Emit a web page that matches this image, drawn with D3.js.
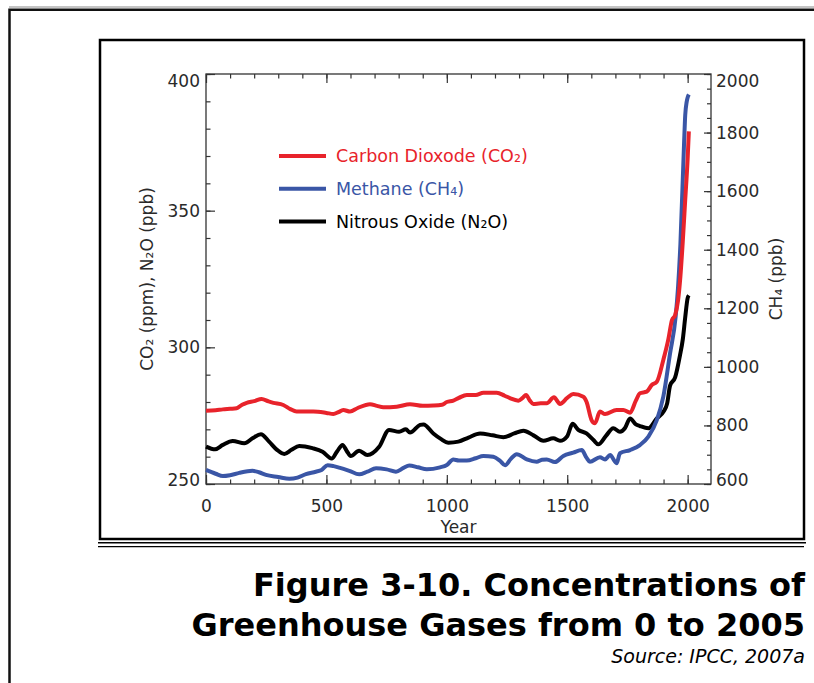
<!DOCTYPE html>
<html>
<head>
<meta charset="utf-8">
<script src="https://cdn.jsdelivr.net/npm/d3@7"></script>
<style>
body { margin: 0; background: #fff; }
svg text { font-family: "DejaVu Sans", Verdana, sans-serif; }
</style>
</head>
<body>
<div id="chart"></div>
<script>
// values (CO2 & N2O left axis, CH4 right axis)
let co2_years = [0, 40, 70, 100, 127, 150, 169, 200, 231, 260, 280, 321, 350, 376, 446, 500, 529, 550, 570, 598, 630, 681, 710, 736, 792, 847, 900, 944, 980, 1000, 1027, 1050, 1083, 1120, 1152, 1207, 1240, 1262, 1297, 1315, 1329, 1345, 1359, 1390, 1415, 1445, 1470, 1500, 1525, 1567, 1580, 1601, 1615, 1636, 1657, 1705, 1733, 1761, 1785, 1802, 1830, 1851, 1872, 1899, 1920, 1935, 1948, 1960, 1970, 1980, 1990, 2000, 2005];
let co2_values = [276.8, 277.0, 277.3, 277.5, 277.7, 279.0, 279.7, 280.3, 281.1, 280.2, 279.7, 278.9, 277.4, 276.5, 276.5, 276.0, 275.6, 276.3, 277.1, 276.5, 277.8, 279.2, 278.6, 278.1, 278.3, 279.2, 278.6, 278.7, 279.0, 280.0, 280.5, 281.5, 282.6, 282.6, 283.4, 283.4, 282.3, 281.4, 280.5, 281.5, 282.6, 280.5, 279.3, 279.5, 279.5, 281.7, 279.3, 281.5, 282.9, 281.9, 280.1, 273.4, 272.2, 276.5, 275.6, 277.1, 277.1, 276.1, 280.5, 283.2, 283.8, 286.2, 287.4, 295.4, 303, 310, 311.8, 317, 326, 339, 354, 369, 379];

let ch4_years = [0, 40, 70, 100, 138, 193, 220, 249, 300, 346, 380, 415, 456, 480, 505, 530, 553, 595, 636, 670, 706, 750, 789, 820, 844, 880, 917, 972, 1000, 1027, 1050, 1083, 1120, 1152, 1193, 1220, 1242, 1265, 1290, 1332, 1373, 1395, 1415, 1449, 1484, 1525, 1560, 1580, 1594, 1636, 1657, 1678, 1705, 1719, 1761, 1802, 1837, 1872, 1899, 1927, 1950, 1960, 1970, 1985, 1990, 1996, 2000, 2005];
let ch4_values = [648, 635, 627, 630, 638, 645, 640, 631, 624, 618, 622, 634, 642, 648, 664, 661, 656, 645, 633, 642, 654, 650, 642, 655, 663, 657, 650, 657, 665, 684, 680, 680, 688, 696, 693, 680, 664, 685, 702, 684, 676, 683, 684, 675, 696, 707, 716, 690, 676, 691, 684, 699, 671, 705, 716, 733, 762, 818, 898, 1046, 1170, 1270, 1420, 1760, 1860, 1905, 1920, 1930];

let n2o_years = [0, 38, 70, 111, 159, 193, 228, 262, 295, 325, 355, 387, 442, 484, 522, 545, 567, 585, 601, 636, 670, 719, 760, 802, 830, 847, 889, 903, 944, 975, 1007, 1048, 1090, 1138, 1190, 1235, 1280, 1318, 1360, 1401, 1442, 1470, 1500, 1522, 1546, 1580, 1610, 1629, 1660, 1691, 1719, 1740, 1761, 1785, 1802, 1837, 1872, 1900, 1915, 1927, 1948, 1968, 1980, 1990, 2000, 2005];
let n2o_values = [263.7, 262.7, 264.3, 265.7, 264.9, 266.7, 268.2, 265.5, 262.5, 261.0, 262.5, 263.9, 263.1, 261.8, 259.3, 262.0, 264.3, 262.0, 260.2, 262.2, 260.6, 263.6, 269.8, 269.1, 270.0, 268.8, 271.6, 271.8, 268.5, 266.5, 265.1, 265.5, 267.0, 268.5, 267.8, 267.1, 268.5, 269.5, 267.8, 265.8, 266.7, 265.8, 267.5, 272.0, 269.8, 268.5, 266.0, 264.5, 267.5, 270.4, 269.1, 270.5, 274.0, 271.8, 271.2, 270.4, 274.0, 276.5, 279.5, 286, 289, 297, 303, 311, 318, 319];

let x_ticks = [0, 500, 1000, 1500, 2000];
let left_ticks = [250, 300, 350, 400];
let right_ticks = [600, 800, 1000, 1200, 1400, 1600, 1800, 2000];

let settings = {
    width: 814,
    height: 683,
    left: 206,
    right: 711,
    top: 74,
    bottom: 484,
    line_width: 4,
};

let colors = {
    co2: "#e8232b",
    ch4: "#3a56a6",
    n2o: "#000000",
    axis: "#333333",
};

function zip(xs, ys) {
    return xs.map((d, i) => ({ year: d, value: ys[i] }));
}

let svg = d3.select("#chart").append("svg")
    .attr("width", settings.width)
    .attr("height", settings.height);

// page frame
svg.append("line").attr("x1", 9).attr("x2", 814).attr("y1", 7).attr("y2", 7)
    .attr("stroke", "#b0b0b0").attr("stroke-width", 1.5);
svg.append("path").attr("d", "M9.5,683 V9.8 H814")
    .attr("fill", "none").attr("stroke", "#111").attr("stroke-width", 2.5);
svg.append("rect").attr("x", 100).attr("y", 40).attr("width", 704).attr("height", 499)
    .attr("fill", "none").attr("stroke", "#000").attr("stroke-width", 2.5);
svg.append("line").attr("x1", 98).attr("x2", 806).attr("y1", 542.8).attr("y2", 542.8)
    .attr("stroke", "#000").attr("stroke-width", 1.6);
svg.append("line").attr("x1", 98).attr("x2", 804).attr("y1", 546.6).attr("y2", 546.6)
    .attr("stroke", "#000").attr("stroke-width", 1.4);

let x = d3.scaleLinear().domain([0, 2097]).range([settings.left, settings.right]);
let y_left = d3.scaleLinear().domain([250, 400]).range([settings.bottom, settings.top]);
let y_right = d3.scaleLinear().domain([600, 2000]).range([settings.bottom, settings.top]);

function style_axis(g) {
    g.select(".domain").remove();
    g.selectAll(".tick line").attr("stroke", colors.axis).attr("stroke-width", 1.2);
    g.selectAll(".tick text").attr("fill", "#2a2a2a").style("font-size", "17px");
}

// minor ticks
let minor_years = d3.range(0, 2001, 100);
svg.append("g").attr("transform", "translate(0," + settings.bottom + ")")
    .call(d3.axisBottom(x).tickValues(minor_years).tickSize(-4.5).tickFormat(""))
    .call(style_axis);
svg.append("g").attr("transform", "translate(0," + settings.top + ")")
    .call(d3.axisTop(x).tickValues(minor_years).tickSize(-4.5).tickFormat(""))
    .call(style_axis);
svg.append("g").attr("transform", "translate(" + settings.left + ",0)")
    .call(d3.axisLeft(y_left).tickValues(d3.range(250, 401, 10)).tickSize(-4.5).tickFormat(""))
    .call(style_axis);
svg.append("g").attr("transform", "translate(" + settings.right + ",0)")
    .call(d3.axisRight(y_right).tickValues(d3.range(600, 2001, 50)).tickSize(-4).tickFormat(""))
    .call(style_axis);

// major ticks + labels
svg.append("g").attr("transform", "translate(0," + settings.bottom + ")")
    .call(d3.axisBottom(x).tickValues(x_ticks).tickSize(-9).tickPadding(16).tickFormat(d3.format("d")))
    .call(style_axis);
svg.append("g").attr("transform", "translate(0," + settings.top + ")")
    .call(d3.axisTop(x).tickValues(x_ticks).tickSize(-9).tickFormat(""))
    .call(style_axis);

let left_axis = svg.append("g").attr("transform", "translate(" + settings.left + ",0)")
    .call(d3.axisLeft(y_left).tickValues(left_ticks).tickSize(-9).tickPadding(6).tickFormat(d3.format("d")))
    .call(style_axis);
left_axis.selectAll(".tick text").filter(d => d === 400).attr("dy", "0.72em");
left_axis.selectAll(".tick text").filter(d => d === 250).attr("dy", "0.1em");

let right_axis = svg.append("g").attr("transform", "translate(" + settings.right + ",0)")
    .call(d3.axisRight(y_right).tickValues(right_ticks).tickSize(-7).tickPadding(5).tickFormat(d3.format("d")))
    .call(style_axis);
right_axis.selectAll(".tick text").filter(d => d === 2000).attr("dy", "0.72em");
right_axis.selectAll(".tick text").filter(d => d === 600).attr("dy", "0.1em");

// plot box
svg.append("rect")
    .attr("x", settings.left).attr("y", settings.top)
    .attr("width", settings.right - settings.left)
    .attr("height", settings.bottom - settings.top)
    .attr("fill", "none").attr("stroke", colors.axis).attr("stroke-width", 1.3);

// axis titles
svg.append("text")
    .attr("x", (settings.left + settings.right) / 2).attr("y", 533)
    .attr("text-anchor", "middle").attr("fill", "#2a2a2a").style("font-size", "17px")
    .text("Year");
svg.append("text")
    .attr("transform", "translate(153," + (settings.top + settings.bottom) / 2 + ") rotate(-90)")
    .attr("text-anchor", "middle").attr("fill", "#2a2a2a").style("font-size", "17px")
    .text("CO₂ (ppm), N₂O (ppb)");
svg.append("text")
    .attr("transform", "translate(782," + (settings.top + settings.bottom) / 2 + ") rotate(-90)")
    .attr("text-anchor", "middle").attr("fill", "#2a2a2a").style("font-size", "17px")
    .text("CH₄ (ppb)");

// series
let series = [
    { key: "co2", data: zip(co2_years, co2_values), y: y_left },
    { key: "n2o", data: zip(n2o_years, n2o_values), y: y_left },
    { key: "ch4", data: zip(ch4_years, ch4_values), y: y_right },
];

let plot = svg.append("g");
for (let s of [series[1], series[2], series[0]]) {
    let line = d3.line()
        .x(d => x(d.year))
        .y(d => s.y(d.value))
        .curve(d3.curveMonotoneX);
    plot.append("path")
        .datum(s.data)
        .attr("fill", "none")
        .attr("stroke", colors[s.key])
        .attr("stroke-width", settings.line_width)
        .attr("stroke-linejoin", "round")
        .attr("d", line);
}

// legend
let legend_items = [
    { label: "Carbon Dioxode (CO₂)", color: colors.co2 },
    { label: "Methane (CH₄)", color: colors.ch4 },
    { label: "Nitrous Oxide (N₂O)", color: colors.n2o },
];
let legend = svg.append("g").selectAll("g")
    .data(legend_items)
    .enter().append("g")
    .attr("transform", (d, i) => "translate(279," + (156 + i * 32.8) + ")");
legend.append("line")
    .attr("x1", 0).attr("x2", 47)
    .attr("stroke", d => d.color).attr("stroke-width", 4);
legend.append("text")
    .attr("x", 57).attr("dy", "0.36em")
    .attr("fill", d => d.color).style("font-size", "17.5px")
    .text(d => d.label);

// caption
let caption = svg.append("g").attr("text-anchor", "end");
caption.append("text").attr("x", 805).attr("y", 596)
    .style("font-size", "32px").style("font-weight", "bold").attr("fill", "#000")
    .text("Figure 3-10. Concentrations of");
caption.append("text").attr("x", 805).attr("y", 636)
    .style("font-size", "32px").style("font-weight", "bold").attr("fill", "#000")
    .text("Greenhouse Gases from 0 to 2005");
caption.append("text").attr("x", 805).attr("y", 663)
    .style("font-size", "19px").style("font-style", "italic").attr("fill", "#000")
    .text("Source: IPCC, 2007a");
</script>
</body>
</html>
